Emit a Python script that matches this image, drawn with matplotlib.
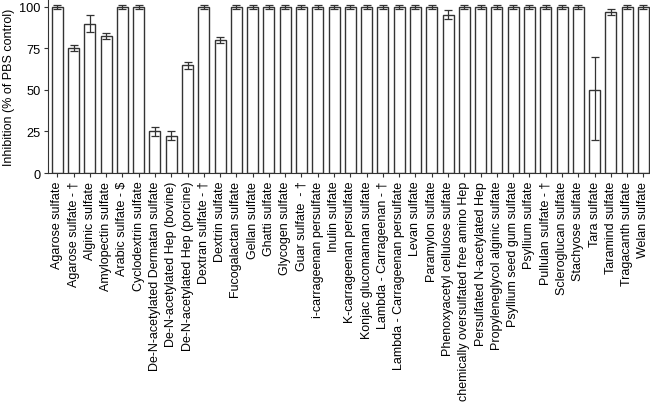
import matplotlib
matplotlib.use("Agg")
from matplotlib import pyplot as plt
import numpy as np

plt.rcParams['font.family'] = ['Liberation Sans', 'DejaVu Sans']

names = [
    "Agarose sulfate", "Agarose sulfate - \u2020", "Alginic sulfate", "Amylopectin sulfate",
    "Arabic sulfate - $", "Cyclodextrin sulfate", "De-N-acetylated Dermatan sulfate",
    "De-N-acetylated Hep (bovine)", "De-N-acetylated Hep (porcine)", "Dextran sulfate - \u2020",
    "Dextrin sulfate", "Fucogalactan sulfate", "Gellan sulfate", "Ghatti sulfate",
    "Glycogen sulfate", "Guar sulfate  - \u2020", "i-carrageenan persulfate", "Inulin sulfate",
    "K-carrageenan persulfate", "Konjac glucomannan sulfate", "Lambda - Carrageenan - \u2020",
    "Lambda - Carrageenan persulfate", "Levan sulfate", "Paramylon sulfate",
    "Phenoxyacetyl cellulose sulfate", "chemically oversulfated free amino Hep",
    "Persulfated N-acetylated Hep", "Propyleneglycol alginic sulfate",
    "Psyllium seed gum sulfate", "Psyllium sulfate", "Pullulan sulfate - \u2020",
    "Scleroglucan sulfate", "Stachyose sulfate", "Tara sulfate", "Taramind sulfate",
    "Tragacanth sulfate", "Welan sulfate",
]

inhibition = [100, 75, 90, 82.5, 100, 100, 25, 22.3, 65, 100,
              80, 100, 100, 100, 100, 100, 100, 100, 100, 100,
              100, 100, 100, 100, 95.3, 100, 100, 100, 100, 100,
              100, 100, 100, 50, 97, 100, 100]

# lower / upper error
err_low = [1.2, 1.8, 5, 1.7, 1.2, 1.2, 2.8, 2.7, 2.1, 1.2,
           1.9, 1.2, 1.2, 1.2, 1.2, 1.2, 1.2, 1.2, 1.2, 1.2,
           1.2, 1.2, 1.2, 1.2, 2.6, 1.2, 1.2, 1.2, 1.2, 1.2,
           1.2, 1.2, 1.2, 30, 2, 1.2, 1.2]
err_high = [1.2, 1.8, 5, 1.7, 1.2, 1.2, 2.8, 2.7, 2.1, 1.2,
            1.9, 1.2, 1.2, 1.2, 1.2, 1.2, 1.2, 1.2, 1.2, 1.2,
            1.2, 1.2, 1.2, 1.2, 2.6, 1.2, 1.2, 1.2, 1.2, 1.2,
            1.2, 1.2, 1.2, 20, 2, 1.2, 1.2]

x = np.arange(len(names))

fig = plt.figure(figsize=(6.5, 4.1), dpi=100)
ax = fig.add_axes([0.074, 0.5756, 0.926, 0.4244])

ax.bar(x, inhibition, width=0.68, color='white', edgecolor='#333333', linewidth=1.0,
       yerr=[err_low, err_high], capsize=3,
       error_kw={'elinewidth': 0.9, 'ecolor': '#333333', 'capthick': 0.9})

ax.set_xlim(-0.56, len(names) - 0.6)
ax.set_ylim(0, 104.8)
ax.set_yticks([0, 25, 50, 75, 100])
ax.set_xticks(x)
ax.set_xticklabels(names, rotation=90, fontsize=9.0)
ax.tick_params(axis='y', labelsize=9.2, length=3, color='#333333', pad=2.5)
ax.tick_params(axis='x', length=3, color='#333333', pad=2.5)
ax.set_ylabel('Inhibition (% of PBS control)', fontsize=9.0, labelpad=3)

ax.spines['top'].set_visible(False)
ax.spines['right'].set_visible(False)
for s in ['left', 'bottom']:
    ax.spines[s].set_color('#333333')

plt.savefig('out.png', dpi=100)
